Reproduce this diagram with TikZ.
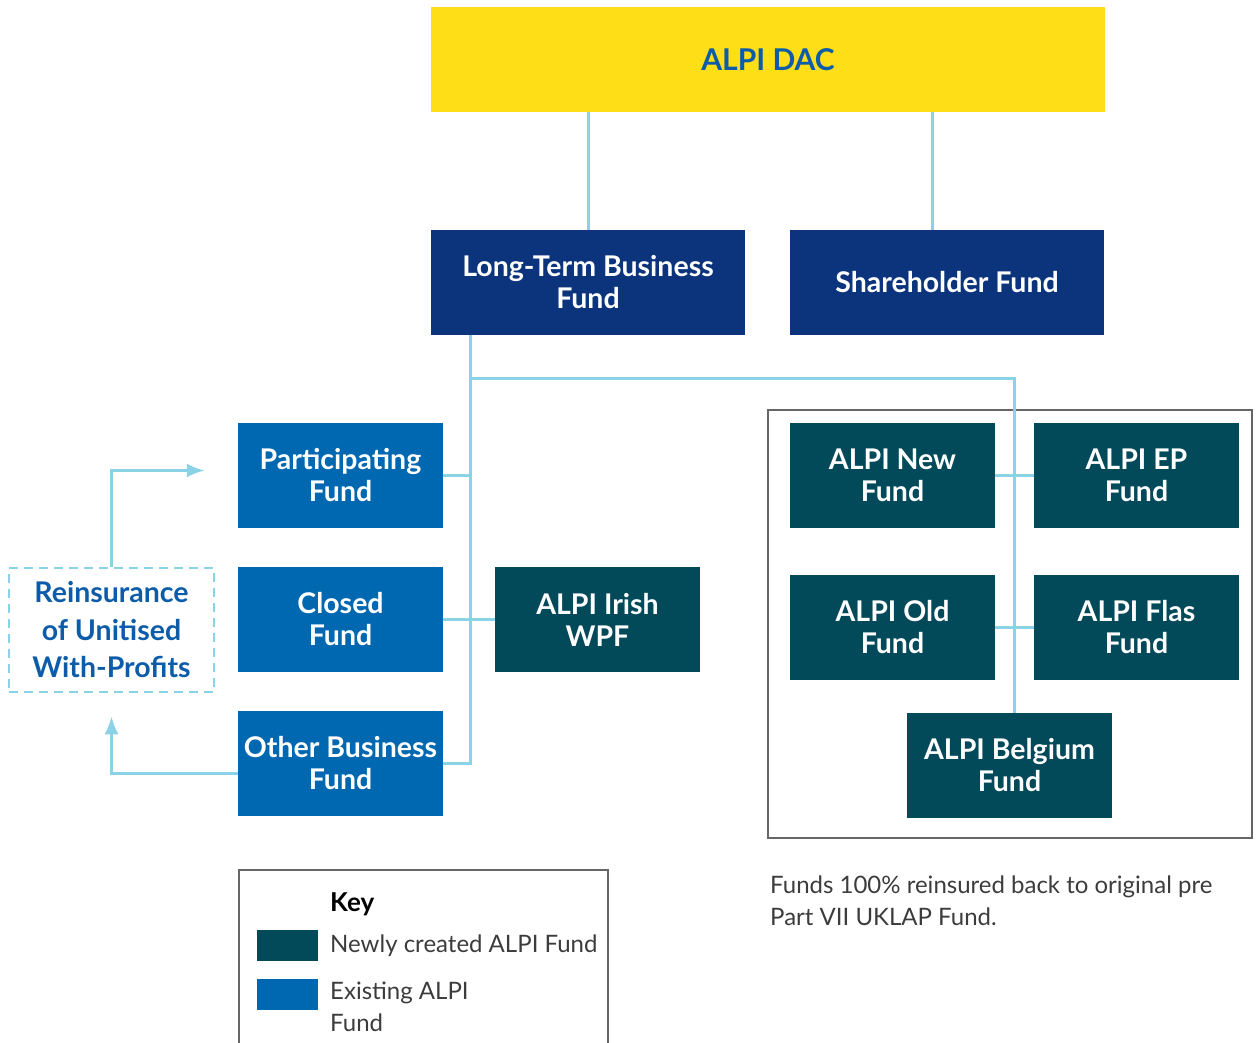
\documentclass[tikz,border=0pt]{standalone}
\usepackage{fontspec}
\setmainfont{Lato}
\usetikzlibrary{shapes,arrows,arrows.meta}
\definecolor{dacyellow}{HTML}{FDDE17}
\definecolor{dacblue}{HTML}{0D5CA9}
\definecolor{navy}{HTML}{0B347D}
\definecolor{fundblue}{HTML}{0067B1}
\definecolor{newteal}{HTML}{02495A}
\definecolor{linkblue}{HTML}{8AD2E6}
\definecolor{notegray}{HTML}{3C3C3C}

\begin{document}
\begin{tikzpicture}[x=1pt,y=-1pt]
\tikzstyle{every node}=[inner sep=0pt,align=center,text=white,font=\bfseries\fontsize{28.5}{32}\selectfont]
\tikzstyle{fund}=[fill=fundblue,minimum width=205pt,minimum height=105pt]
\tikzstyle{newfund}=[fill=newteal,minimum width=205pt,minimum height=105pt]
\tikzstyle{top}=[fill=navy,minimum width=314pt,minimum height=105pt]
\tikzstyle{link}=[draw=linkblue,line width=3pt]
\tikzstyle{plain}=[text=notegray,font=\fontsize{24}{32}\selectfont,align=left]

\useasboundingbox (0,0) rectangle (1259,1043);

\node[fill=dacyellow,minimum width=674pt,minimum height=105pt,text=dacblue,
  font=\bfseries\fontsize{30}{36}\selectfont] (DAC) at (768,59.5) {ALPI DAC};
\node[top] (LTBF) at (588,282.5) {Long-Term Business\\Fund};
\node[top] (Share) at (947,282.5) {Shareholder Fund};

\node[fund] (Part) at (340.5,475.5) {Participating\\Fund};
\node[fund] (Closed) at (340.5,619.5) {Closed\\Fund};
\node[fund] (Other) at (340.5,763.5) {Other Business\\Fund};
\node[newfund] (Irish) at (597.5,619.5) {ALPI Irish\\WPF};
\node[draw=linkblue,line width=2.5pt,dash pattern=on 9pt off 6pt,minimum width=205pt,
  minimum height=124pt,text=dacblue,font=\bfseries\fontsize{28.5}{37.5}\selectfont]
  (Reins) at (111.5,630) {Reinsurance\\of Unitised\\With-Profits};

% reinsured group
\draw[draw=gray!80!black,line width=1.5pt] (768,410) rectangle (1252,838);
\node[newfund] (New) at (892.5,475.5) {ALPI New\\Fund};
\node[newfund] (EP) at (1136.5,475.5) {ALPI EP\\Fund};
\node[newfund] (Old) at (892.5,627.5) {ALPI Old\\Fund};
\node[newfund] (Flas) at (1136.5,627.5) {ALPI Flas\\Fund};
\node[newfund] (Belg) at (1009.5,765.5) {ALPI Belgium\\Fund};

\coordinate (T) at ([xshift=40pt]LTBF.south west);
\coordinate (M) at (1014.5,378);

\draw[link] (LTBF.north) -- (LTBF.north |- DAC.south);
\draw[link] ([xshift=-15pt]Share.north) -- ([xshift=-15pt]Share.north |- DAC.south);
\draw[link] (T) -- (T |- Other.east) -- (Other.east);
\draw[link] (Part.east) -- (Part.east -| T);
\draw[link] (Closed) -- (Irish);
\draw[link] (T |- M) -- (M) -- (M |- Belg.north);
\draw[link] (New) -- (EP);
\draw[link] (Old) -- (Flas);
\draw[link,-{Latex[length=18pt,width=14pt]}] (Reins.north) |- ([xshift=-33pt,yshift=5pt]Part.west);
\draw[link,-{Latex[length=18pt,width=14pt]}] ([yshift=-10pt]Other.west) -| ([yshift=-23pt]Reins.south);

\node[plain,anchor=north west] (Note) at (770,876)
  {Funds 100\% reinsured back to original pre\\Part VII UKLAP Fund.};

% key
\draw[draw=gray!80!black,line width=1.5pt] (239,1043) |- (608,870) -- (608,1043);
\node[anchor=west,text=black,font=\bfseries\fontsize{26}{32}\selectfont] (Key) at (330,904) {Key};
\node[newfund,minimum width=61pt,minimum height=31pt] (KeyNew) at (287.5,945.5) {};
\node[plain,anchor=west] (KeyNewText) at (330,946) {Newly created ALPI Fund};
\node[fund,minimum width=61pt,minimum height=31pt] (KeyOld) at (287.5,994.5) {};
\node[plain,anchor=north west] (KeyOldText) at (330,982) {Existing ALPI\\Fund};
\end{tikzpicture}
\end{document}
